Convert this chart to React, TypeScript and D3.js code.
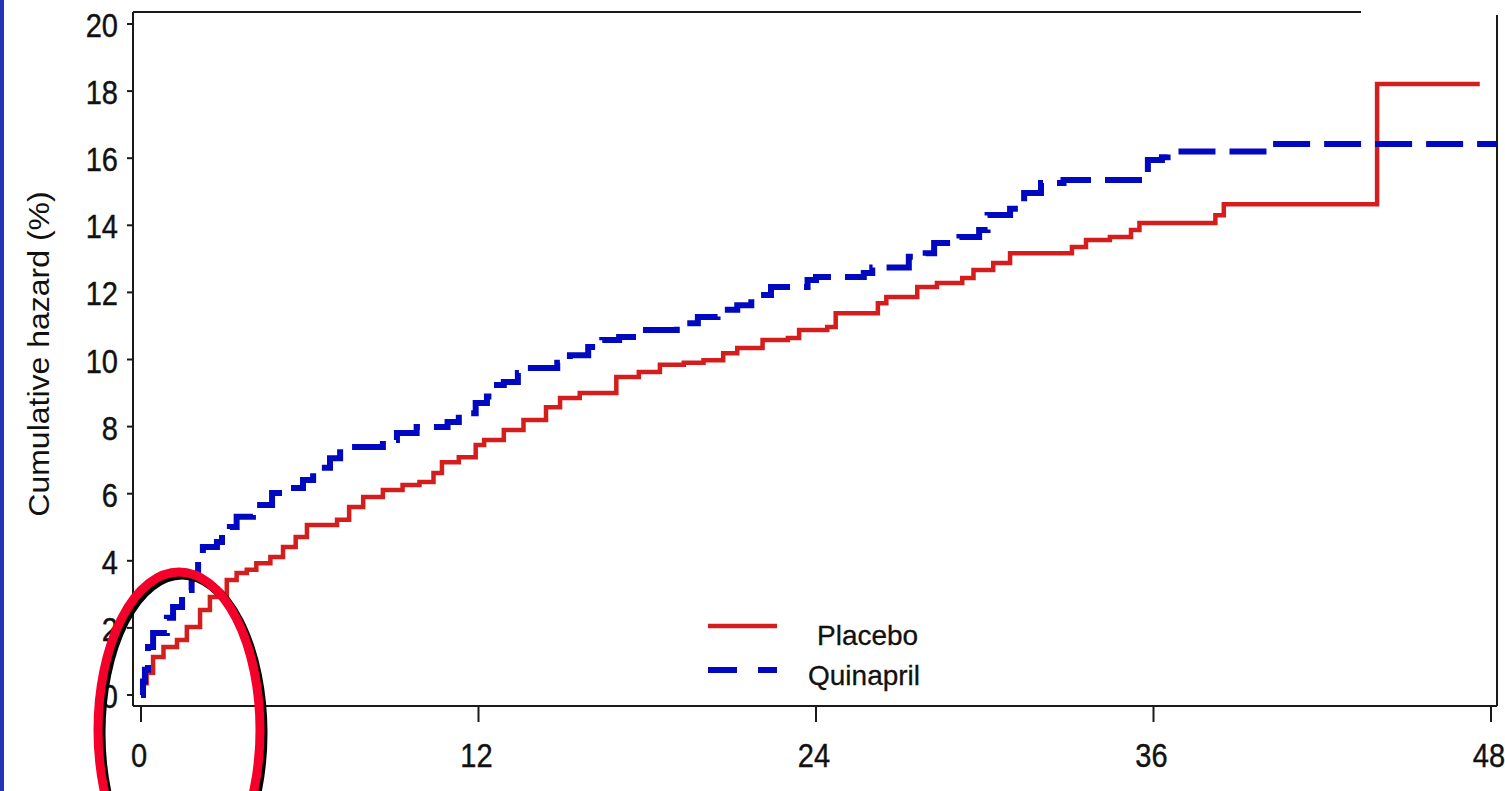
import React from "react";
import * as d3 from "d3";

const xTicks = [0, 12, 24, 36, 48];
const yTicks = [0, 2, 4, 6, 8, 10, 12, 14, 16, 18, 20];

const placeboT = [0, 0.1, 0.2, 0.43, 0.8, 1.28, 1.63, 2.1, 2.45, 3.05, 3.4, 3.76, 4.1, 4.6, 5.05, 5.5, 5.9, 6.97, 7.4, 7.9, 8.6, 9.3, 9.9, 10.4, 10.7, 11.3, 11.9, 12.2, 12.9, 13.6, 14.4, 14.9, 15.6, 16.9, 17.7, 18.45, 19.3, 20.0, 20.7, 21.2, 22.1, 23.0, 23.4, 24.4, 24.7, 26.2, 26.5, 27.6, 28.3, 29.2, 29.6, 30.3, 30.9, 33.1, 33.6, 34.45, 35.2, 35.5, 38.2, 38.5, 43.95, 47.6];
const placeboV = [0, 0.35, 0.66, 1.13, 1.43, 1.64, 2.03, 2.53, 2.92, 3.43, 3.64, 3.73, 3.93, 4.11, 4.41, 4.71, 5.07, 5.22, 5.6, 5.9, 6.11, 6.26, 6.35, 6.62, 6.94, 7.09, 7.45, 7.6, 7.9, 8.2, 8.58, 8.85, 9.0, 9.48, 9.63, 9.84, 9.9, 9.98, 10.19, 10.34, 10.58, 10.64, 10.88, 10.97, 11.38, 11.68, 11.86, 12.16, 12.28, 12.43, 12.67, 12.88, 13.17, 13.35, 13.56, 13.65, 13.86, 14.07, 14.3, 14.63, 18.21, 18.21];

const quinaprilT = [0, 0.07, 0.14, 0.25, 0.43, 0.92, 1.14, 1.46, 1.8, 2.03, 2.2, 2.7, 2.88, 3.16, 3.4, 3.98, 4.66, 5.05, 5.76, 6.12, 6.72, 7.08, 8.6, 9.1, 9.8, 10.9, 11.3, 11.9, 12.3, 12.5, 12.9, 13.4, 13.7, 14.8, 15.25, 15.9, 16.4, 17.0, 17.7, 19.05, 19.8, 20.5, 21.2, 21.7, 22.4, 23.7, 24.0, 25.7, 26.0, 27.3, 27.9, 28.2, 29.1, 29.8, 30.1, 30.9, 31.4, 32.0, 32.8, 35.8, 36.3, 36.5, 40.1, 48.2];
const quinaprilV = [0, 0.4, 0.75, 1.43, 1.85, 2.3, 2.62, 3.13, 3.48, 4.02, 4.41, 4.56, 4.83, 5.01, 5.31, 5.66, 6.02, 6.17, 6.41, 6.77, 7.06, 7.39, 7.6, 7.81, 7.99, 8.14, 8.4, 8.7, 8.9, 9.24, 9.33, 9.6, 9.75, 9.9, 10.13, 10.37, 10.58, 10.67, 10.88, 11.08, 11.27, 11.48, 11.62, 11.92, 12.16, 12.37, 12.46, 12.58, 12.74, 13.06, 13.17, 13.47, 13.65, 13.86, 14.31, 14.49, 14.96, 15.26, 15.35, 15.95, 16.03, 16.2, 16.42, 16.42];

const seriesNames = ["Placebo", "Quinapril"];

const W = 1505;
const H = 791;
const FONT = "'Liberation Sans', Arial, Helvetica, sans-serif";

export default function App() {
  const x = d3.scaleLinear().domain([0, 48]).range([141, 1491]);
  const y = d3.scaleLinear().domain([0, 20]).range([695, 24]);

  const frame = { left: 133, right: 1497, top: 12, bottom: 706 };

  const line = d3
    .line<[number, number]>()
    .x((d) => x(d[0]))
    .y((d) => y(d[1]))
    .curve(d3.curveStepAfter);

  const placebo: [number, number][] = placeboT.map((t, i) => [t, placeboV[i]]);
  const quinapril: [number, number][] = quinaprilT.map((t, i) => [t, quinaprilV[i]]);

  const red = "#d41e1e";
  const blue = "#0008c0";
  const txt = "#111";

  return (
    <svg
      width={W}
      height={H}
      style={{ position: "absolute", left: 0, top: 0, display: "block", background: "#fff" }}
      fontFamily={FONT}
    >
      <rect x={0} y={0} width={W} height={H} fill="#fff" />
      <rect x={0} y={0} width={4} height={H} fill="#2235b8" />

      <defs>
        <clipPath id="plotclip">
          <rect x={frame.left} y={frame.top} width={frame.right - frame.left} height={frame.bottom - frame.top} />
        </clipPath>
      </defs>

      {/* frame */}
      <line x1={frame.left} y1={frame.top} x2={1361} y2={frame.top} stroke="#1a1a1a" strokeWidth={2} />
      <line x1={frame.left} y1={frame.top} x2={frame.left} y2={frame.bottom} stroke="#1a1a1a" strokeWidth={2} />
      <line x1={frame.left} y1={frame.bottom} x2={frame.right} y2={frame.bottom} stroke="#1a1a1a" strokeWidth={2} />
      <line x1={frame.right} y1={15} x2={frame.right} y2={frame.bottom} stroke="#1a1a1a" strokeWidth={2} />

      {/* y ticks */}
      {yTicks.map((v) => (
        <g key={"y" + v}>
          <line x1={127} x2={frame.left} y1={y(v)} y2={y(v)} stroke="#1a1a1a" strokeWidth={2} />
          <text
            transform={`translate(118, ${y(v) + 13}) scale(0.88, 1)`}
            textAnchor="end"
            fontSize={33}
            fill={txt}
            stroke={txt}
            strokeWidth={0.4}
          >
            {v}
          </text>
        </g>
      ))}

      {/* x ticks */}
      {xTicks.map((t) => (
        <g key={"x" + t}>
          <line x1={x(t)} x2={x(t)} y1={frame.bottom} y2={722} stroke="#1a1a1a" strokeWidth={2} />
          <text
            transform={`translate(${x(t) - 2}, 767) scale(0.88, 1)`}
            textAnchor="middle"
            fontSize={33}
            fill={txt}
            stroke={txt}
            strokeWidth={0.4}
          >
            {t}
          </text>
        </g>
      ))}

      {/* y title */}
      <text
        transform={`translate(49, 354) scale(0.9, 1) rotate(-90)`}
        textAnchor="middle"
        fontSize={32}
        fill={txt}
      >
        Cumulative hazard (%)
      </text>

      {/* curves */}
      <g clipPath="url(#plotclip)">
        <path d={line(placebo) || ""} fill="none" stroke={red} strokeWidth={4.5} strokeLinejoin="miter" />
        <path
          d={line(quinapril) || ""}
          fill="none"
          stroke={blue}
          strokeWidth={6}
          strokeDasharray="37 14"
        />
      </g>

      {/* legend */}
      <line x1={708} x2={777} y1={626} y2={626} stroke={red} strokeWidth={4.5} />
      <text x={817} y={645} fontSize={28} fill={txt} stroke={txt} strokeWidth={0.3}>
        {seriesNames[0]}
      </text>
      <line x1={708} x2={777} y1={670} y2={670} stroke={blue} strokeWidth={6} strokeDasharray="29 21 19" />
      <text x={808} y={685} fontSize={28} fill={txt} stroke={txt} strokeWidth={0.3}>
        {seriesNames[1]}
      </text>

      {/* annotation ellipse */}
      <ellipse cx={182} cy={733} rx={81} ry={158} fill="none" stroke="#000" strokeWidth={9} />
      <ellipse cx={179} cy={730} rx={81} ry={158} fill="none" stroke="#f5002a" strokeWidth={9} />
    </svg>
  );
}
